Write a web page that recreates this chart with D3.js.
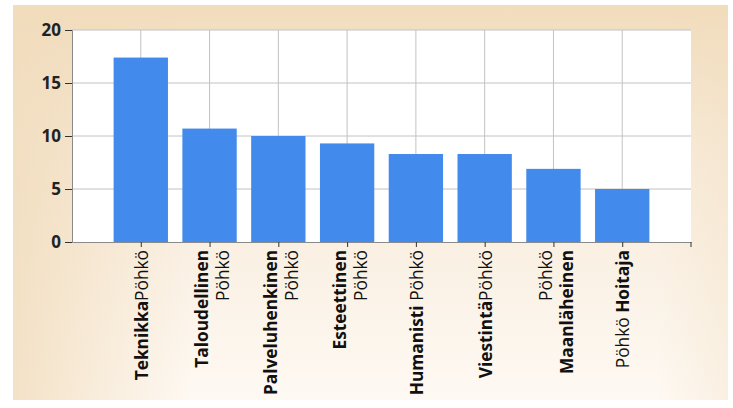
<!DOCTYPE html>
<html>
<head>
<meta charset="utf-8">
<script src="https://cdn.jsdelivr.net/npm/d3@7"></script>
<style>
  html, body { margin: 0; padding: 0; background: #fff; }
  svg { display: block; }
  .ytick text { font-family: "Open Sans", sans-serif; font-weight: 700; font-size: 17px; fill: #222; }
  .xlab { font-family: "Open Sans", sans-serif; font-size: 17.3px; fill: #111; }
</style>
</head>
<body>
<div id="chart"></div>
<script>
const WIDTH = 733;
const HEIGHT = 408;

// each label: lines of [text, bold] pieces
const CATEGORIES = [
  "Teknikka", "Taloudellinen", "Palveluhenkinen", "Esteettinen",
  "Humanisti", "Viestintä", "Maanläheinen", "Hoitaja"
];
const VALUES = [17.4, 10.7, 10.0, 9.3, 8.3, 8.3, 6.9, 5.0];
const LABEL_LINES = [
  [[["Teknikka", true], ["Pöhkö", false]]],
  [[["Taloudellinen", true]], [["Pöhkö", false]]],
  [[["Palveluhenkinen", true]], [["Pöhkö", false]]],
  [[["Esteettinen", true]], [["Pöhkö", false]]],
  [[["Humanisti", true], [" Pöhkö", false]]],
  [[["Viestintä", true], ["Pöhkö", false]]],
  [[["Pöhkö", false]], [["Maanläheinen", true]]],
  [[["Pöhkö ", false], ["Hoitaja", true]]]
];
const Y_TICKS = [0, 5, 10, 15, 20];

const margin = { left: 72, right: 42, top: 30, bottom: 166 };
const plotW = WIDTH - margin.left - margin.right;
const plotH = HEIGHT - margin.top - margin.bottom;

const svg = d3.select("#chart").append("svg")
  .attr("width", WIDTH).attr("height", HEIGHT);

// beige panel background
const defs = svg.append("defs");
const gv = defs.append("linearGradient").attr("id", "bgv")
  .attr("x1", 0).attr("y1", 0).attr("x2", 0).attr("y2", 1);
gv.append("stop").attr("offset", "0%").attr("stop-color", "#f1dcbc");
gv.append("stop").attr("offset", "35%").attr("stop-color", "#f7ead8");
gv.append("stop").attr("offset", "100%").attr("stop-color", "#fef9f3");
const gh = defs.append("linearGradient").attr("id", "bgh")
  .attr("x1", 0).attr("y1", 0).attr("x2", 1).attr("y2", 0);
gh.append("stop").attr("offset", "0%").attr("stop-color", "#f1dcbc").attr("stop-opacity", 0.8);
gh.append("stop").attr("offset", "25%").attr("stop-color", "#f1dcbc").attr("stop-opacity", 0);
gh.append("stop").attr("offset", "90%").attr("stop-color", "#f1dcbc").attr("stop-opacity", 0);
gh.append("stop").attr("offset", "100%").attr("stop-color", "#f1dcbc").attr("stop-opacity", 0.3);

svg.append("rect").attr("x", 13).attr("y", 5).attr("width", 715).attr("height", 395)
  .attr("fill", "url(#bgv)");
svg.append("rect").attr("x", 13).attr("y", 5).attr("width", 715).attr("height", 395)
  .attr("fill", "url(#bgh)");

const x = d3.scalePoint().domain(CATEGORIES)
  .range([margin.left, margin.left + plotW]).padding(1);
const y = d3.scaleLinear().domain([0, 20]).range([margin.top + plotH, margin.top]);
const barW = x.step() * 0.79;

// plot area
svg.append("rect")
  .attr("x", margin.left).attr("y", margin.top)
  .attr("width", plotW).attr("height", plotH)
  .attr("fill", "#fff");

// grid
svg.append("g").selectAll("line.h").data(Y_TICKS.slice(1)).join("line")
  .attr("x1", margin.left).attr("x2", margin.left + plotW)
  .attr("y1", d => y(d)).attr("y2", d => y(d))
  .attr("stroke", "#c2c2c2").attr("stroke-width", 1);
svg.append("g").selectAll("line.v").data(CATEGORIES).join("line")
  .attr("x1", d => x(d)).attr("x2", d => x(d))
  .attr("y1", margin.top).attr("y2", margin.top + plotH)
  .attr("stroke", "#c2c2c2").attr("stroke-width", 1);

// bars
svg.append("g").selectAll("rect").data(CATEGORIES).join("rect")
  .attr("x", d => x(d) - barW / 2)
  .attr("y", (d, i) => y(VALUES[i]))
  .attr("width", barW)
  .attr("height", (d, i) => y(0) - y(VALUES[i]))
  .attr("fill", "#428aeb");

// y axis
const yAxis = svg.append("g")
  .attr("class", "ytick")
  .attr("transform", `translate(${margin.left},0)`)
  .call(d3.axisLeft(y).tickValues(Y_TICKS).tickSize(7).tickPadding(4));
yAxis.select(".domain").attr("stroke", "#8a8a8a");
yAxis.selectAll(".tick line").attr("stroke", "#333");

// x axis
const xAxis = svg.append("g")
  .attr("transform", `translate(0,${margin.top + plotH})`)
  .call(d3.axisBottom(x).tickSize(5).tickFormat("").tickSizeOuter(0));
xAxis.select(".domain").attr("stroke", "#8a8a8a");
xAxis.selectAll(".tick line").attr("stroke", "#333");
xAxis.append("line")
  .attr("x1", margin.left + plotW).attr("x2", margin.left + plotW)
  .attr("y1", 0).attr("y2", 5).attr("stroke", "#333");

// rotated category labels
const labelTop = margin.top + plotH + 8;
const lineH = 21;
CATEGORIES.forEach((c, i) => {
  const lines = LABEL_LINES[i];
  const n = lines.length;
  lines.forEach((pieces, j) => {
    const bx = x(c) + 7 + (j - (n - 1) / 2) * lineH + (n > 1 ? 2 : 0);
    const t = svg.append("text")
      .attr("class", "xlab")
      .attr("text-anchor", "end")
      .attr("transform", `translate(${bx},${labelTop}) rotate(-90)`);
    pieces.forEach(([txt, bold]) => {
      t.append("tspan")
        .attr("font-weight", bold ? 700 : 400)
        .text(txt);
    });
  });
});
</script>
</body>
</html>
